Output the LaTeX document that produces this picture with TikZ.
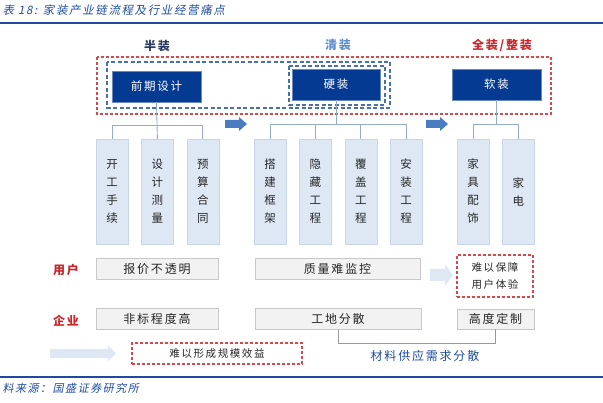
\documentclass[tikz,border=0pt]{standalone}
\usepackage{fontspec}
\usepackage{xcolor}
\usepackage{tikz}
\usetikzlibrary{positioning,calc}

\newfontfamily\cjk[LetterSpace=15]{Noto Sans CJK SC}
\newfontfamily\cjkit[LetterSpace=14,FakeSlant=0.2]{Noto Sans CJK SC}

\definecolor{navy}{RGB}{4,58,146}
\definecolor{rulecol}{RGB}{30,75,160}
\definecolor{framered}{RGB}{212,72,78}
\definecolor{frameblue}{RGB}{72,112,172}
\definecolor{paleblue}{RGB}{221,232,244}
\definecolor{paleedge}{RGB}{200,214,232}
\definecolor{linkcol}{RGB}{150,172,204}
\definecolor{arrowblue}{RGB}{74,124,192}
\definecolor{greyfill}{RGB}{242,242,242}
\definecolor{greyedge}{RGB}{200,200,200}
\definecolor{labelred}{RGB}{200,38,42}
\definecolor{qingblue}{RGB}{96,142,200}
\definecolor{banblue}{RGB}{40,58,100}

\tikzset{
  stagebox/.style={fill=navy, draw=navy!60!white, text=white, minimum width=89pt,
    minimum height=31pt, inner sep=0pt, font=\cjk\fontsize{11.5}{14}\selectfont},
  itembox/.style={fill=paleblue, draw=paleedge, text=black!85, minimum width=32pt,
    minimum height=105pt, inner sep=0pt, align=center,
    font=\cjk\fontsize{11.5}{18}\selectfont},
  greybox/.style={fill=greyfill, draw=greyedge, text=black!85, minimum height=21pt,
    inner sep=0pt, font=\cjk\fontsize{12}{14}\selectfont},
  redframe/.style={draw=framered, dash pattern=on 3pt off 2pt, line width=1.1pt},
  blueframe/.style={draw=frameblue, dash pattern=on 4pt off 2.5pt, line width=1.3pt},
  link/.style={draw=linkcol, line width=0.9pt},
  bracket/.style={draw=black!40, line width=0.9pt},
  rule/.style={draw=rulecol, line width=1.5pt},
  pics/barrow/.style args={#1/#2/#3/#4}{code={
    \fill (0,-#3) -- (#1-#2,-#3) -- (#1-#2,-#4) -- (#1,0) -- (#1-#2,#4)
      -- (#1-#2,#3) -- (0,#3) -- cycle;}}
}

\begin{document}
\begin{tikzpicture}[x=1pt,y=-1pt]
    \useasboundingbox (0,0) rectangle (603,403);

    % Title and rules
    \node[anchor=west, text=rulecol, font=\cjkit\fontsize{11.5}{13}\selectfont] (title) at (-1,10)
        {表 18: 家装产业链流程及行业经营痛点};
    \draw[rule] (0,23) -- (603,23);
    \draw[rule] (0,377) -- (603,377);
    \node[anchor=west, text=rulecol, font=\cjkit\fontsize{11}{13}\selectfont] (source) at (-1,388)
        {料来源：国盛证券研究所};

    % Stage labels
    \node[text=banblue, font=\cjk\fontsize{12}{14}\bfseries] (lban) at (157,46) {半装};
    \node[text=qingblue, font=\cjk\fontsize{12}{14}\bfseries] (lqing) at (338,45) {清装};
    \node[text=labelred, font=\cjk\fontsize{12}{14}\bfseries] (lquan) at (502,45) {全装/整装};

    % Dashed frames
    \draw[redframe] (97,57) rectangle (551,114);
    \draw[blueframe] (107,62) rectangle (390,108);
    \draw[blueframe] (289,66) rectangle (385,105);

    % Stage boxes
    \node[stagebox] (design) at (156.5,86.5) {前期设计};
    \node[stagebox, minimum width=88pt] (hard) at (336,84.5) {硬装};
    \node[stagebox] (soft) at (496.5,84.5) {软装};

    % Item boxes
    \node[itembox] (kg) at (112,191.5) {开\\工\\手\\续};
    \node[itembox, right=13pt of kg] (cl) {设\\计\\测\\量};
    \node[itembox, right=13pt of cl] (ys) {预\\算\\合\\同};
    \node[itembox] (dj) at (270,191.5) {搭\\建\\框\\架};
    \node[itembox, right=13pt of dj] (yc) {隐\\藏\\工\\程};
    \node[itembox, right=13pt of yc] (fg) {覆\\盖\\工\\程};
    \node[itembox, right=13pt of fg] (az) {安\\装\\工\\程};
    \node[itembox] (jj) at (473,191.5) {家\\具\\配\\饰};
    \node[itembox, right=13pt of jj] (jd) {家\\电};

    % Tree links
    \draw[link] (design.south) -- (cl.north);
    \draw[link] (kg.north) -- ++(0,-13) -| (ys.north);
    \draw[link] (hard.south) -- ++(0,25);
    \draw[link] (dj.north) -- ++(0,-14) -| (az.north);
    \draw[link] (yc.north) -- ++(0,-14);
    \draw[link] (fg.north) -- ++(0,-14);
    \draw[link] (soft.south) -- ++(0,25);
    \draw[link] (jj.north) -- ++(0,-14) -| (jd.north);

    % Block arrows
    \pic[color=arrowblue] at (225,124) {barrow=22/8/4/7};
    \pic[color=arrowblue] at (426,124) {barrow=22/8/4/7};
    \pic[color=paleblue] at (430,275) {barrow=23/8/6/11};
    \pic[color=paleblue] at (50,353.5) {barrow=66/8/4.5/8};

    % Pain points: users
    \node[text=labelred, font=\cjk\fontsize{12}{14}\bfseries] (user) at (66,270) {用户};
    \node[greybox, minimum width=122pt] (price) at (157,268.5) {报价不透明};
    \node[greybox, minimum width=165pt] (quality) at (337.5,268.5) {质量难监控};
    \node[redframe, minimum width=76pt, minimum height=42pt, inner sep=0pt, align=center,
        text=black!85, font=\cjk\fontsize{10.5}{17}\selectfont] (experience) at (495,276)
        {难以保障\\用户体验};

    % Pain points: companies
    \node[text=labelred, font=\cjk\fontsize{12}{14}\bfseries] (firm) at (66,321) {企业};
    \node[greybox, minimum width=122pt] (nonstd) at (157,319) {非标程度高};
    \node[greybox, minimum width=166pt] (site) at (338,319) {工地分散};
    \node[greybox, minimum width=77pt, minimum height=20pt] (custom) at (495.5,319) {高度定制};
    \draw[bracket] (site.south) -- ++(0,14) -| (custom.south);
    \node[text=rulecol, font=\cjk\fontsize{12}{14}\selectfont] (supply) at (425,356) {材料供应需求分散};
    \node[redframe, minimum width=170pt, minimum height=21pt, inner sep=0pt,
        text=black!85, font=\cjk\fontsize{10.5}{12}\selectfont] (scale) at (217,353.5)
        {难以形成规模效益};
\end{tikzpicture}
\end{document}
